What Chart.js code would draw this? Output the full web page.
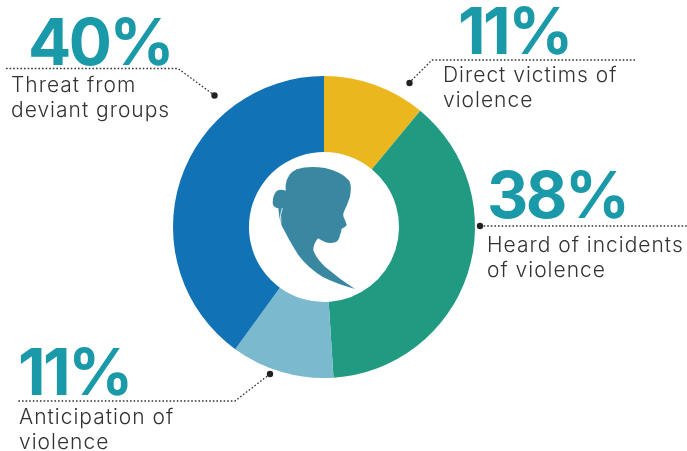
<!DOCTYPE html>
<html>
<head>
<meta charset="utf-8">
<script src="https://cdn.jsdelivr.net/npm/chart.js@4"></script>
<style>
  html, body { margin: 0; padding: 0; background: #fff; }
  #wrap { position: relative; width: 687px; height: 451px; overflow: hidden; font-family: Inter, sans-serif; }
  #donut { position: absolute; left: 0; top: 0; }
  #overlay { position: absolute; left: 0; top: 0; }
  .pct { position: absolute; font-weight: 700; font-size: 64px; line-height: 64px; letter-spacing: -2.5px; color: #1a9aa8; white-space: nowrap; }
  .lbl { position: absolute; font-weight: 350; font-size: 21px; line-height: 25px; letter-spacing: 1px; color: #333; white-space: pre-line; }
</style>
</head>
<body>
<div id="wrap">
  <canvas id="donut" width="687" height="451"></canvas>
  <svg id="overlay" width="687" height="451" viewBox="0 0 687 451">
    <!-- leader lines -->
    <g fill="none" stroke="#333" stroke-width="1.3" stroke-dasharray="1.6 2">
      <polyline points="6,68.5 178,68.5 214,95" />
      <polyline points="409,83 432,60 635,60" />
      <polyline points="480,226 687,226" />
      <polyline points="270,374 235,401 18,401" />
    </g>
    <g fill="#222">
      <circle cx="214.5" cy="95.5" r="3.2" />
      <circle cx="409.5" cy="83" r="3.2" />
      <circle cx="480" cy="226" r="3.2" />
      <circle cx="270" cy="374" r="3.2" />
    </g>
    <!-- head in the middle of the ring -->
    <g transform="translate(230 140) scale(0.3333)">
      <path fill="#3a87a2" d="M167 135 Q172 100 200 88 Q235 76 285 84 Q335 95 358 122 Q366 140 360 170
        Q352 195 343 212 Q338 222 341 232 Q350 250 350 256 Q345 263 335 266 Q334 275 330 285
        Q328 300 318 306 Q300 312 285 306 Q272 300 264 295 Q250 312 250 330 Q256 352 285 380
        Q330 418 375 447 Q320 432 280 412 Q235 385 205 345 Q180 305 165 275 Q152 255 148 230
        Q146 215 145 205 Q130 203 128 190 Q128 165 140 153 Q152 146 167 152 Z" />
      <path fill="none" stroke="#fff" stroke-width="2.5" d="M157 204 Q148 225 153 250" />
    </g>
  </svg>
  <div id="labels"></div>
</div>
<script>
const categories = ['Direct victims of\nviolence', 'Heard of incidents\nof violence', 'Anticipation of\nviolence', 'Threat from\ndeviant groups'];
const shares = [11, 38, 11, 40];
const sliceColors = ['#ebb71f', '#219a82', '#7bb9cf', '#1272b6'];

// where the big number and the caption sit for each slice
const textSpots = [
  { pctX: 458, pctY: -1, lblX: 443, lblY: 62 },
  { pctX: 487, pctY: 163, lblX: 487, lblY: 232 },
  { pctX: 18, pctY: 340, lblX: 19, lblY: 404 },
  { pctX: 28, pctY: 10, lblX: 11, lblY: 72 }
];

new Chart(document.getElementById('donut'), {
  type: 'doughnut',
  data: {
    labels: categories,
    datasets: [{
      data: shares,
      backgroundColor: sliceColors,
      borderWidth: 0
    }]
  },
  options: {
    responsive: false,
    animation: false,
    cutout: '49.7%',
    layout: { padding: { left: 173, right: 212, top: 76, bottom: 73 } },
    plugins: { legend: { display: false }, tooltip: { enabled: false } }
  }
});

const labelsEl = document.getElementById('labels');
categories.forEach((cat, i) => {
  const pct = document.createElement('div');
  pct.className = 'pct';
  pct.textContent = shares[i] + '%';
  pct.style.left = textSpots[i].pctX + 'px';
  pct.style.top = textSpots[i].pctY + 'px';
  labelsEl.appendChild(pct);

  const lbl = document.createElement('div');
  lbl.className = 'lbl';
  lbl.textContent = cat;
  lbl.style.left = textSpots[i].lblX + 'px';
  lbl.style.top = textSpots[i].lblY + 'px';
  labelsEl.appendChild(lbl);
});
</script>
</body>
</html>
